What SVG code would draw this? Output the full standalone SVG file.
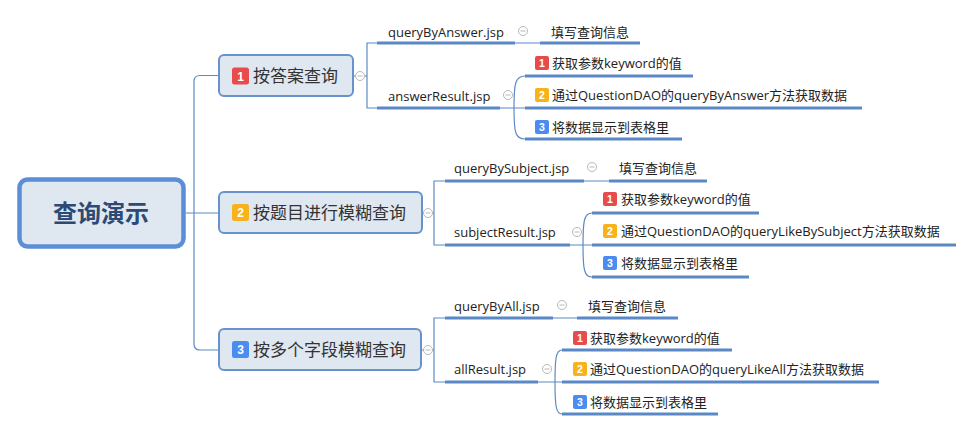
<svg xmlns="http://www.w3.org/2000/svg" width="974" height="431" viewBox="0 0 974 431">
<style>
.conn{fill:none;stroke:#5d8ac4;stroke-width:1.2}
.ul{fill:none;stroke:#5b88c6;stroke-width:3}
.box{fill:#dfe7f1;stroke:#6892cb;stroke-width:2}
.root{fill:#dfe7f1;stroke:#5b8ed6;stroke-width:4.5}
.t{font-family:"Open Sans","Noto Sans CJK SC",sans-serif;font-size:13px;fill:#222}
.bt{font-family:"Open Sans","Noto Sans CJK SC",sans-serif;font-size:17px;fill:#333}
.rt{font-family:"Noto Sans CJK SC",sans-serif;font-size:24px;font-weight:bold;fill:#2c4a74}
.bn{font-family:"Liberation Sans",Arial,sans-serif;font-weight:bold;fill:#fff;text-anchor:middle}
.r{fill:#e84b4b}.o{fill:#f8b31c}.b{fill:#4b8cf0}
.mc{fill:#fff;stroke:#b8b8b8;stroke-width:1}
.ml{stroke:#b8b8b8;stroke-width:1}
</style>
<defs>
<g id="minus"><circle class="mc" r="4.5"/><line class="ml" x1="-2.5" y1="0" x2="2.5" y2="0"/></g>
</defs>
<rect width="974" height="431" fill="#fff"/>

<g id="connectors">
<path class="conn" d="M186,213 H218 M219,75.5 H200 Q194,75.5 194,81.5 V344 Q194,350 200,350 H218"/>
<path class="conn" d="M353,76 H356 M364.5,76 H367 M377,43 H367 V108 H377"/>
<path class="conn" d="M422,213 H424 M432.5,213 H434 M445,181 H434 V245 H445"/>
<path class="conn" d="M421,350 H424 M432.5,350 H434 M445,318 H434 V382 H445"/>
<path class="conn" d="M515,43 H540 M500,108 H525 M514,108 C514,84 515,76 525,76 M514,108 C514,132 515,139 525,139"/>
<path class="conn" d="M584,181 H609 M570,245 H592 M583,245 C583,221 584,213 592,213 M583,245 C583,269 584,277 592,277"/>
<path class="conn" d="M553,318 H577 M538,382 H562 M555,382 C555,358 556,350 562,350 M555,382 C555,406 556,414 562,414"/>
</g>

<g id="root">
<rect class="root" x="19.5" y="179.5" width="164" height="67" rx="8"/>
<text class="rt" x="101" y="222" text-anchor="middle">查询演示</text>
</g>

<g id="branch1">
<rect class="box" x="219" y="55" width="134" height="41" rx="5"/>
<rect class="r" x="232" y="67.5" width="17" height="17" rx="2.5"/>
<text class="bn" x="240.5" y="80.5" font-size="12">1</text>
<text class="bt" x="253" y="82">按答案查询</text>
<use href="#minus" x="360" y="76"/>
</g>
<g id="branch2">
<rect class="box" x="219" y="192" width="203" height="41" rx="5"/>
<rect class="o" x="232" y="204" width="17" height="17" rx="2.5"/>
<text class="bn" x="240.5" y="217" font-size="12">2</text>
<text class="bt" x="253" y="219">按题目进行模糊查询</text>
<use href="#minus" x="428" y="213"/>
</g>
<g id="branch3">
<rect class="box" x="219" y="329" width="202" height="41" rx="5"/>
<rect class="b" x="232" y="341" width="17" height="17" rx="2.5"/>
<text class="bn" x="240.5" y="354" font-size="12">3</text>
<text class="bt" x="253" y="356">按多个字段模糊查询</text>
<use href="#minus" x="428" y="350"/>
</g>

<!-- branch 1 leaves -->
<g id="queryByAnswer">
<text class="t" x="388" y="36.5">queryByAnswer.jsp</text>
<line class="ul" x1="377" y1="43" x2="515" y2="43"/>
<use href="#minus" x="523" y="31"/>
</g>
<g id="fill1">
<text class="t" x="551" y="36.5">填写查询信息</text>
<line class="ul" x1="540" y1="43" x2="640" y2="43"/>
</g>
<g id="answerResult">
<text class="t" x="388" y="100.5">answerResult.jsp</text>
<line class="ul" x1="377" y1="108" x2="500" y2="108"/>
<use href="#minus" x="508" y="95"/>
</g>
<g id="a1">
<rect class="r" x="535" y="56" width="14" height="14" rx="2"/>
<text class="bn" x="542" y="67" font-size="10.5">1</text>
<text class="t" x="552" y="68">获取参数keyword的值</text>
<line class="ul" x1="525" y1="76" x2="693" y2="76"/>
</g>
<g id="a2">
<rect class="o" x="535" y="88" width="14" height="14" rx="2"/>
<text class="bn" x="542" y="99" font-size="10.5">2</text>
<text class="t" x="552" y="100">通过QuestionDAO的queryByAnswer方法获取数据</text>
<line class="ul" x1="525" y1="108" x2="862" y2="108"/>
</g>
<g id="a3">
<rect class="b" x="535" y="120" width="14" height="14" rx="2"/>
<text class="bn" x="542" y="131" font-size="10.5">3</text>
<text class="t" x="552" y="132">将数据显示到表格里</text>
<line class="ul" x1="525" y1="139" x2="682" y2="139"/>
</g>

<!-- branch 2 leaves -->
<g id="queryBySubject">
<text class="t" x="454" y="172.5">queryBySubject.jsp</text>
<line class="ul" x1="445" y1="181" x2="584" y2="181"/>
<use href="#minus" x="592" y="167"/>
</g>
<g id="fill2">
<text class="t" x="619" y="172.5">填写查询信息</text>
<line class="ul" x1="609" y1="181" x2="707" y2="181"/>
</g>
<g id="subjectResult">
<text class="t" x="454" y="236.5">subjectResult.jsp</text>
<line class="ul" x1="445" y1="245" x2="570" y2="245"/>
<use href="#minus" x="577" y="232"/>
</g>
<g id="s1">
<rect class="r" x="603" y="192" width="14" height="14" rx="2"/>
<text class="bn" x="610" y="203" font-size="10.5">1</text>
<text class="t" x="621" y="204">获取参数keyword的值</text>
<line class="ul" x1="592" y1="213" x2="759" y2="213"/>
</g>
<g id="s2">
<rect class="o" x="603" y="224" width="14" height="14" rx="2"/>
<text class="bn" x="610" y="235" font-size="10.5">2</text>
<text class="t" x="621" y="236">通过QuestionDAO的queryLikeBySubject方法获取数据</text>
<line class="ul" x1="592" y1="245" x2="956" y2="245"/>
</g>
<g id="s3">
<rect class="b" x="603" y="256" width="14" height="14" rx="2"/>
<text class="bn" x="610" y="267" font-size="10.5">3</text>
<text class="t" x="621" y="268">将数据显示到表格里</text>
<line class="ul" x1="592" y1="277" x2="749" y2="277"/>
</g>

<!-- branch 3 leaves -->
<g id="queryByAll">
<text class="t" x="454" y="310.5">queryByAll.jsp</text>
<line class="ul" x1="445" y1="318" x2="553" y2="318"/>
<use href="#minus" x="562" y="305"/>
</g>
<g id="fill3">
<text class="t" x="588" y="310.5">填写查询信息</text>
<line class="ul" x1="577" y1="318" x2="678" y2="318"/>
</g>
<g id="allResult">
<text class="t" x="454" y="373.5">allResult.jsp</text>
<line class="ul" x1="445" y1="382" x2="538" y2="382"/>
<use href="#minus" x="547" y="369"/>
</g>
<g id="l1">
<rect class="r" x="573" y="331" width="14" height="14" rx="2"/>
<text class="bn" x="580" y="342" font-size="10.5">1</text>
<text class="t" x="590" y="343">获取参数keyword的值</text>
<line class="ul" x1="562" y1="350" x2="732" y2="350"/>
</g>
<g id="l2">
<rect class="o" x="573" y="362" width="14" height="14" rx="2"/>
<text class="bn" x="580" y="373" font-size="10.5">2</text>
<text class="t" x="590" y="374">通过QuestionDAO的queryLikeAll方法获取数据</text>
<line class="ul" x1="562" y1="382" x2="879" y2="382"/>
</g>
<g id="l3">
<rect class="b" x="573" y="395" width="14" height="14" rx="2"/>
<text class="bn" x="580" y="406" font-size="10.5">3</text>
<text class="t" x="590" y="407">将数据显示到表格里</text>
<line class="ul" x1="562" y1="414" x2="718" y2="414"/>
</g>
</svg>
